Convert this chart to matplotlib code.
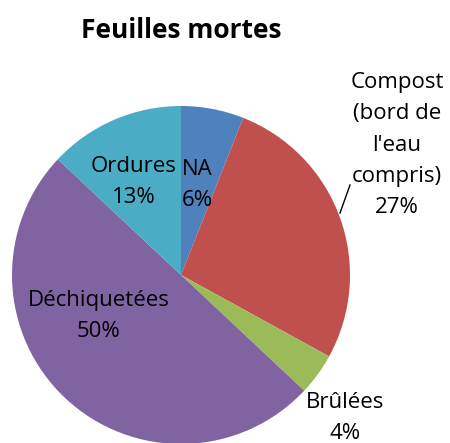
import matplotlib.pyplot as plt

# data
categories = ["NA", "Compost\n(bord de\nl'eau\ncompris)", "Brûlées", "Déchiquetées", "Ordures"]
values = [6, 27, 4, 50, 13]
colors = ["#4F81BD", "#C0504D", "#9BBB59", "#8064A2", "#4BACC6"]

# label centres in pixel coords (x, y from top)
label_pos = [(197, 185), (397, 145), (345, 418), (99, 316), (134, 182)]

plt.rcParams["font.family"] = ["Open Sans", "DejaVu Sans"]

W, H = 450, 443
fig = plt.figure(figsize=(W / 100, H / 100), dpi=100)
ax = fig.add_axes([0, 0, 1, 1])

ax.pie(values, colors=colors, startangle=90, counterclock=False,
       center=(181, H - 275), radius=169, frame=True,
       wedgeprops=dict(linewidth=0))
ax.set_xlim(0, W)
ax.set_ylim(0, H)
ax.set_aspect("equal")
ax.axis("off")

for cat, v, (x, y) in zip(categories, values, label_pos):
    ax.text(x, H - y, f"{cat}\n{v}%", ha="center", va="center",
            fontsize=16, linespacing=1.65, color="black")

# leader line for Compost label
ax.plot([340, 350], [H - 213, H - 185], color="black", linewidth=1)

ax.text(181, H - 30, "Feuilles mortes", ha="center", va="center",
        fontsize=19, fontweight="bold")

fig.savefig("out.png", dpi=100)
